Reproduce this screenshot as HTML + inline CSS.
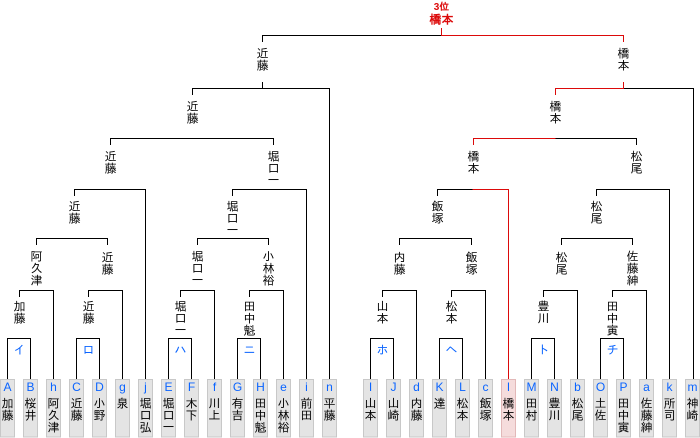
<!DOCTYPE html>
<html><head><meta charset="utf-8"><style>
html,body{margin:0;padding:0;background:#fff;}
svg{display:block;}
text{font-family:"Liberation Sans","IPAGothic","Noto Sans CJK JP",sans-serif;font-size:12px;text-anchor:middle;}
.b{fill:#0a64ff;}
.lt{font-size:11px;fill:#0a64ff;}
</style></head><body>
<svg width="700" height="438" viewBox="0 0 700 438" xmlns="http://www.w3.org/2000/svg" shape-rendering="crispEdges">
<g fill="none" stroke="#000" stroke-width="1">
<path d="M262.5 42V35.5H441.5"/>
<path d="M192.5 95V88.5H329.5V379M262.5 82V88"/>
<path d="M623.5 88.5H693.5V379"/>
<path d="M110.5 145V138.5H273.5V145"/>
<path d="M555.5 138.5H636.5V145"/>
<path d="M74.5 196V189.5H145.5V379M232.5 196V189.5H306.5V379M437.5 196V189.5H472.5M596.5 196V189.5H669.5V379"/>
<path d="M36.5 245V238.5H107.5V245M197.5 245V238.5H268.5V245M399.5 245V238.5H471.5V245M561.5 245V238.5H632.5V245"/>
<path d="M19.5 297V290.5H53.5V379M88.5 297V290.5H122.5V379M180.5 297V290.5H214.5V379M249.5 297V290.5H283.5V379M382.5 297V290.5H416.5V379M451.5 297V290.5H485.5V379M543.5 297V290.5H577.5V379M612.5 297V290.5H646.5V379"/>
<path d="M7.5 379V338.5H30.5V379M76.5 379V338.5H99.5V379M168.5 379V338.5H191.5V379M237.5 379V338.5H260.5V379M370.5 379V338.5H393.5V379M439.5 379V338.5H462.5V379M531.5 379V338.5H554.5V379M600.5 379V338.5H623.5V379"/>
</g>
<g fill="none" stroke="#dc0a0a" stroke-width="1">
<path d="M441.5 28V35.5H623.5V42"/>
<path d="M623.5 82V88.5H555.5V95"/>
<path d="M555.5 138.5H473.5V145"/>
<path d="M472.5 189.5H508.5V379"/>
</g>
<text x="441.5" y="10" fill="#dc0a0a" font-weight="bold" style="font-size:10px">3位</text>
<text x="441.5" y="23.5" fill="#dc0a0a" font-weight="bold">橋本</text>
<g fill="#000">
<text x="262.5" y="57.5">近</text><text x="262.5" y="69.5">藤</text>
<text x="623.5" y="57.5">橋</text><text x="623.5" y="69.5">本</text>
<text x="192.5" y="110.5">近</text><text x="192.5" y="122.5">藤</text>
<text x="555.5" y="110.5">橋</text><text x="555.5" y="122.5">本</text>
<text x="110.5" y="160.5">近</text><text x="110.5" y="172.5">藤</text>
<text x="273.5" y="160.5">堀</text><text x="273.5" y="172.5">口</text><text x="273.5" y="184.5">一</text>
<text x="473.5" y="160.5">橋</text><text x="473.5" y="172.5">本</text>
<text x="636.5" y="160.5">松</text><text x="636.5" y="172.5">尾</text>
<text x="74.5" y="210.5">近</text><text x="74.5" y="222.5">藤</text>
<text x="232.5" y="210.5">堀</text><text x="232.5" y="222.5">口</text><text x="232.5" y="234.5">一</text>
<text x="437.5" y="210.5">飯</text><text x="437.5" y="222.5">塚</text>
<text x="596.5" y="210.5">松</text><text x="596.5" y="222.5">尾</text>
<text x="36.5" y="260.5">阿</text><text x="36.5" y="272.5">久</text><text x="36.5" y="284.5">津</text>
<text x="107.5" y="261.5">近</text><text x="107.5" y="273.5">藤</text>
<text x="197.5" y="260.5">堀</text><text x="197.5" y="272.5">口</text><text x="197.5" y="284.5">一</text>
<text x="268.5" y="260.5">小</text><text x="268.5" y="272.5">林</text><text x="268.5" y="284.5">裕</text>
<text x="399.5" y="261.5">内</text><text x="399.5" y="273.5">藤</text>
<text x="471.5" y="261.5">飯</text><text x="471.5" y="273.5">塚</text>
<text x="561.5" y="261.5">松</text><text x="561.5" y="273.5">尾</text>
<text x="632.5" y="260.5">佐</text><text x="632.5" y="272.5">藤</text><text x="632.5" y="284.5">紳</text>
<text x="19.5" y="310.5">加</text><text x="19.5" y="322.5">藤</text>
<text x="88.5" y="310.5">近</text><text x="88.5" y="322.5">藤</text>
<text x="180.5" y="310.5">堀</text><text x="180.5" y="322.5">口</text><text x="180.5" y="334.5">一</text>
<text x="249.5" y="310.5">田</text><text x="249.5" y="322.5">中</text><text x="249.5" y="334.5">魁</text>
<text x="382.5" y="310.5">山</text><text x="382.5" y="322.5">本</text>
<text x="451.5" y="310.5">松</text><text x="451.5" y="322.5">本</text>
<text x="543.5" y="310.5">豊</text><text x="543.5" y="322.5">川</text>
<text x="612.5" y="310.5">田</text><text x="612.5" y="322.5">中</text><text x="612.5" y="334.5">寅</text>
</g>
<g class="b">
<text x="19.5" y="354">イ</text><text x="88.5" y="354">ロ</text><text x="180.5" y="354">ハ</text><text x="249.5" y="354">ニ</text>
<text x="382.5" y="354">ホ</text><text x="451.5" y="354">ヘ</text><text x="543.5" y="354">ト</text><text x="612.5" y="354">チ</text>
</g>
<g stroke="#c8c8c8" fill="#e4e4e4">
<rect x="0.5" y="379.5" width="14" height="57.5"/><rect x="23.5" y="379.5" width="14" height="57.5"/><rect x="46.5" y="379.5" width="14" height="57.5"/><rect x="69.5" y="379.5" width="14" height="57.5"/><rect x="92.5" y="379.5" width="14" height="57.5"/><rect x="115.5" y="379.5" width="14" height="57.5"/><rect x="138.5" y="379.5" width="14" height="57.5"/><rect x="161.5" y="379.5" width="14" height="57.5"/><rect x="184.5" y="379.5" width="14" height="57.5"/><rect x="207.5" y="379.5" width="14" height="57.5"/><rect x="230.5" y="379.5" width="14" height="57.5"/><rect x="253.5" y="379.5" width="14" height="57.5"/><rect x="276.5" y="379.5" width="14" height="57.5"/><rect x="299.5" y="379.5" width="14" height="57.5"/><rect x="322.5" y="379.5" width="14" height="57.5"/>
<rect x="363.5" y="379.5" width="14" height="57.5"/><rect x="386.5" y="379.5" width="14" height="57.5"/><rect x="409.5" y="379.5" width="14" height="57.5"/><rect x="432.5" y="379.5" width="14" height="57.5"/><rect x="455.5" y="379.5" width="14" height="57.5"/><rect x="478.5" y="379.5" width="14" height="57.5"/>
<rect x="501.5" y="379.5" width="14" height="57.5" fill="#f5dcdc" stroke="#e2b8b8"/>
<rect x="524.5" y="379.5" width="14" height="57.5"/><rect x="547.5" y="379.5" width="14" height="57.5"/><rect x="570.5" y="379.5" width="14" height="57.5"/><rect x="593.5" y="379.5" width="14" height="57.5"/><rect x="616.5" y="379.5" width="14" height="57.5"/><rect x="639.5" y="379.5" width="14" height="57.5"/><rect x="662.5" y="379.5" width="14" height="57.5"/><rect x="685.5" y="379.5" width="14" height="57.5"/>
</g>
<g class="lt">
<text x="7.5" y="391">A</text><text x="30.5" y="391">B</text><text x="53.5" y="391">h</text><text x="76.5" y="391">C</text><text x="99.5" y="391">D</text><text x="122.5" y="391">g</text><text x="145.5" y="391">j</text><text x="168.5" y="391">E</text><text x="191.5" y="391">F</text><text x="214.5" y="391">f</text><text x="237.5" y="391">G</text><text x="260.5" y="391">H</text><text x="283.5" y="391">e</text><text x="306.5" y="391">i</text><text x="329.5" y="391">n</text>
<text x="370.5" y="391">I</text><text x="393.5" y="391">J</text><text x="416.5" y="391">d</text><text x="439.5" y="391">K</text><text x="462.5" y="391">L</text><text x="485.5" y="391">c</text><text x="508.5" y="391">l</text><text x="531.5" y="391">M</text><text x="554.5" y="391">N</text><text x="577.5" y="391">b</text><text x="600.5" y="391">O</text><text x="623.5" y="391">P</text><text x="646.5" y="391">a</text><text x="669.5" y="391">k</text><text x="692.5" y="391">m</text>
</g>
<g fill="#000">
<text x="7.5" y="407.5">加</text><text x="7.5" y="419.5">藤</text>
<text x="30.5" y="407.5">桜</text><text x="30.5" y="419.5">井</text>
<text x="53.5" y="407.5">阿</text><text x="53.5" y="419.5">久</text><text x="53.5" y="431.5">津</text>
<text x="76.5" y="407.5">近</text><text x="76.5" y="419.5">藤</text>
<text x="99.5" y="407.5">小</text><text x="99.5" y="419.5">野</text>
<text x="122.5" y="407.5">泉</text>
<text x="145.5" y="407.5">堀</text><text x="145.5" y="419.5">口</text><text x="145.5" y="431.5">弘</text>
<text x="168.5" y="407.5">堀</text><text x="168.5" y="419.5">口</text><text x="168.5" y="431.5">一</text>
<text x="191.5" y="407.5">木</text><text x="191.5" y="419.5">下</text>
<text x="214.5" y="407.5">川</text><text x="214.5" y="419.5">上</text>
<text x="237.5" y="407.5">有</text><text x="237.5" y="419.5">吉</text>
<text x="260.5" y="407.5">田</text><text x="260.5" y="419.5">中</text><text x="260.5" y="431.5">魁</text>
<text x="283.5" y="407.5">小</text><text x="283.5" y="419.5">林</text><text x="283.5" y="431.5">裕</text>
<text x="306.5" y="407.5">前</text><text x="306.5" y="419.5">田</text>
<text x="329.5" y="407.5">平</text><text x="329.5" y="419.5">藤</text>
<text x="370.5" y="407.5">山</text><text x="370.5" y="419.5">本</text>
<text x="393.5" y="407.5">山</text><text x="393.5" y="419.5">崎</text>
<text x="416.5" y="407.5">内</text><text x="416.5" y="419.5">藤</text>
<text x="439.5" y="407.5">達</text>
<text x="462.5" y="407.5">松</text><text x="462.5" y="419.5">本</text>
<text x="485.5" y="407.5">飯</text><text x="485.5" y="419.5">塚</text>
<text x="508.5" y="407.5">橋</text><text x="508.5" y="419.5">本</text>
<text x="531.5" y="407.5">田</text><text x="531.5" y="419.5">村</text>
<text x="554.5" y="407.5">豊</text><text x="554.5" y="419.5">川</text>
<text x="577.5" y="407.5">松</text><text x="577.5" y="419.5">尾</text>
<text x="600.5" y="407.5">土</text><text x="600.5" y="419.5">佐</text>
<text x="623.5" y="407.5">田</text><text x="623.5" y="419.5">中</text><text x="623.5" y="431.5">寅</text>
<text x="646.5" y="407.5">佐</text><text x="646.5" y="419.5">藤</text><text x="646.5" y="431.5">紳</text>
<text x="669.5" y="407.5">所</text><text x="669.5" y="419.5">司</text>
<text x="692.5" y="407.5">神</text><text x="692.5" y="419.5">崎</text>
</g>
</svg>
</body></html>
